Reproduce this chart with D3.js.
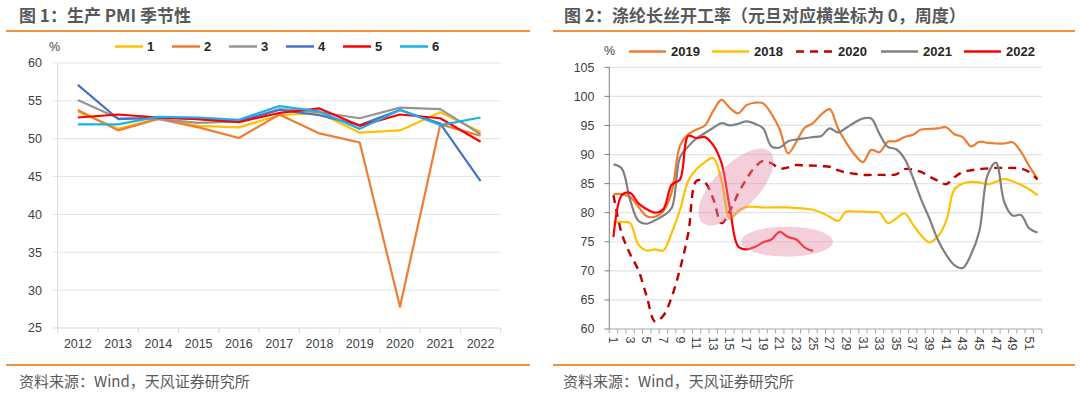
<!DOCTYPE html>
<html>
<head>
<meta charset="utf-8">
<script src="https://cdn.jsdelivr.net/npm/d3@7"></script>
<style>
  html, body { margin: 0; padding: 0; background: #fff; }
  svg { display: block; font-family: "Liberation Sans", Arial, sans-serif; }
  .title { font-family: "Noto Sans CJK SC", sans-serif; font-weight: bold; font-size: 17px; fill: #595959; }
  .source { font-family: "Noto Sans CJK SC", sans-serif; font-size: 15px; fill: #595959; }
  .tick-label { font-size: 12.5px; fill: #404040; }
  .legend-label { font-size: 13px; font-weight: bold; fill: #262626; }
</style>
</head>
<body>
<svg id="chart" width="1080" height="397"></svg>
<script>
// ---- Chart 1: production PMI by month, 2012-2022
const pmiYears = ["2012","2013","2014","2015","2016","2017","2018","2019","2020","2021","2022"];
const pmiMonths = ["1","2","3","4","5","6"];
const pmiM1 = [53.6, 51.3, 52.7, 51.7, 51.5, 53.1, 53.4, 50.8, 51.1, 53.5, 50.9];
const pmiM2 = [53.8, 51.1, 52.6, 51.5, 50.1, 53.2, 50.7, 49.5, 27.8, 51.9, 50.4];
const pmiM3 = [55.1, 52.7, 52.6, 52.1, 52.3, 53.9, 53.5, 52.7, 54.1, 53.9, 50.6];
const pmiM4 = [57.1, 52.6, 52.8, 52.6, 52.3, 53.8, 53.1, 51.8, 53.8, 52.0, 44.4];
const pmiM5 = [52.8, 53.2, 52.8, 52.6, 52.2, 53.4, 54.0, 51.7, 53.2, 52.7, 49.6];
const pmiM6 = [51.9, 51.9, 52.9, 52.8, 52.5, 54.3, 53.6, 51.3, 53.8, 51.8, 52.8];
const pmiColors = ["#FFC000", "#ED7D31", "#949494", "#4472C4", "#FF0000", "#1AB0EE"];
const pmiTicks = [25, 30, 35, 40, 45, 50, 55, 60];

// ---- Chart 2: polyester filament operating rate by week
const weeks = [1,2,3,4,5,6,7,8,9,10,11,12,13,14,15,16,17,18,19,20,21,22,23,24,25,26,
  27,28,29,30,31,32,33,34,35,36,37,38,39,40,41,42,43,44,45,46,47,48,49,50,51,52];
const rate2019 = [83.2,83.2,82.7,81.0,79.4,79.3,80.3,83.5,91.5,93.5,94.3,95.0,97.5,99.4,98.0,97.1,98.5,98.9,98.8,97.0,
  94.3,90.2,92.2,94.6,95.4,96.9,97.8,94.5,92.0,90.0,88.7,90.8,90.4,92.2,92.3,93.0,93.4,94.3,94.4,94.5,
  94.7,93.5,93.0,91.4,92.2,92.0,91.9,91.9,92.1,90.5,88.0,85.8];
const rate2018 = [78.4,78.4,78.2,74.5,73.5,73.7,73.5,76.5,80.5,85.5,87.5,88.7,89.4,85.5,79.0,80.3,81.0,81.0,80.9,80.9,
  80.9,80.9,80.8,80.7,80.5,80.0,79.3,78.6,80.2,80.2,80.2,80.1,80.0,78.2,79.0,79.9,78.0,76.1,74.9,75.9,
  78.5,84.0,85.0,85.3,85.2,84.9,85.3,85.8,85.4,84.8,84.0,83.0];
const rate2020 = [83.0,76.4,72.9,70.1,65.6,61.3,62.3,65.5,70.3,76.5,85.5,85.2,82.4,78.2,80.3,83.3,85.8,87.8,88.9,88.5,
  87.6,87.8,88.2,88.1,88.1,88.0,87.9,87.3,86.9,86.7,86.5,86.5,86.5,86.5,86.6,87.5,87.4,87.0,86.2,85.5,
  84.9,86.1,87.0,87.3,87.5,87.6,87.7,87.7,87.7,87.6,87.0,85.7];
const rate2021 = [88.3,87.6,82.2,78.6,78.1,78.7,79.5,80.8,89.5,91.4,92.8,93.7,94.6,95.4,95.0,95.3,95.7,95.3,94.5,91.4,
  91.2,92.3,92.6,92.8,93.0,93.2,94.5,93.8,94.6,95.5,96.2,96.2,93.5,91.3,90.9,89.3,86.1,82.3,79.0,75.4,
  72.8,71.0,70.5,72.8,76.8,86.5,88.6,81.8,79.5,79.6,77.3,76.6];
const rate2022 = [75.8,83.0,83.4,81.6,80.6,80.0,80.6,84.8,85.7,93.2,92.8,93.0,91.6,88.5,80.8,74.2,73.7,74.1,74.9,75.4,
  76.7,75.8,75.4,74.0,73.4];
const rateSeries = [
  { name: "2019", values: rate2019, color: "#ED7D31", dash: null },
  { name: "2018", values: rate2018, color: "#FFC000", dash: null },
  { name: "2020", values: rate2020, color: "#C00000", dash: "8,6" },
  { name: "2021", values: rate2021, color: "#808080", dash: null },
  { name: "2022", values: rate2022, color: "#FF0000", dash: null }
];
const rateTicks = [60, 65, 70, 75, 80, 85, 90, 95, 100, 105];

const svg = d3.select("#chart");

// --- frame: titles, orange rules, sources
svg.append("text").attr("class", "title").attr("x", 19).attr("y", 22).text("图 1：生产 PMI 季节性");
svg.append("text").attr("class", "title").attr("x", 564).attr("y", 22).text("图 2：涤纶长丝开工率（元旦对应横坐标为 0，周度）");
for (const [x0, x1] of [[6, 530], [553, 1075]]) {
  svg.append("line").attr("x1", x0).attr("x2", x1).attr("y1", 31).attr("y2", 31)
    .attr("stroke", "#F4913F").attr("stroke-width", 2);
  svg.append("line").attr("x1", x0).attr("x2", x1).attr("y1", 365).attr("y2", 365)
    .attr("stroke", "#F4913F").attr("stroke-width", 2);
}
svg.append("text").attr("class", "source").attr("x", 19).attr("y", 387).text("资料来源：Wind，天风证券研究所");
svg.append("text").attr("class", "source").attr("x", 563).attr("y", 387).text("资料来源：Wind，天风证券研究所");

// --- Chart 1
{
  const x = d3.scaleBand().domain(pmiYears).range([57.7, 500.7]);
  const y = d3.scaleLinear().domain([25, 60]).range([328, 63]);
  const g = svg.append("g");

  g.selectAll("line.grid").data(pmiTicks.slice(1)).join("line")
    .attr("x1", 53).attr("x2", 500.7).attr("y1", d => y(d)).attr("y2", d => y(d))
    .attr("stroke", "#E3E3E3").attr("stroke-width", 1);
  g.append("line").attr("x1", 57.7).attr("x2", 57.7).attr("y1", 63).attr("y2", 328)
    .attr("stroke", "#D9D9D9");
  g.append("line").attr("x1", 53).attr("x2", 500.7).attr("y1", 328).attr("y2", 328)
    .attr("stroke", "#D9D9D9");
  const edges = pmiYears.map(d => x(d)).concat([x.range()[1]]);
  g.selectAll("line.xt").data(edges).join("line")
    .attr("x1", d => d).attr("x2", d => d).attr("y1", 328).attr("y2", 333)
    .attr("stroke", "#D9D9D9");
  g.selectAll("text.yl").data(pmiTicks).join("text").attr("class", "tick-label")
    .attr("x", 42).attr("y", d => y(d)).attr("dy", "0.35em").attr("text-anchor", "end").text(d => d);
  g.selectAll("text.xl").data(pmiYears).join("text").attr("class", "tick-label")
    .attr("x", d => x(d) + x.bandwidth() / 2).attr("y", 348).attr("text-anchor", "middle").text(d => d);
  g.append("text").attr("class", "tick-label").attr("x", 49).attr("y", 51).text("%");

  const series = [pmiM1, pmiM2, pmiM3, pmiM4, pmiM5, pmiM6];
  const line = d3.line().x((d, i) => x(pmiYears[i]) + x.bandwidth() / 2).y(d => y(d));
  series.forEach((vals, k) => {
    g.append("path").datum(vals).attr("d", line).attr("fill", "none")
      .attr("stroke", pmiColors[k]).attr("stroke-width", 2.2).attr("stroke-linejoin", "round");
  });

  // legend
  const lg = g.append("g");
  pmiMonths.forEach((m, k) => {
    const lx = 115 + k * 57;
    lg.append("line").attr("x1", lx).attr("x2", lx + 28).attr("y1", 46.5).attr("y2", 46.5)
      .attr("stroke", pmiColors[k]).attr("stroke-width", 2.5);
    lg.append("text").attr("class", "legend-label").attr("x", lx + 32).attr("y", 51).text(m);
  });
}

// --- Chart 2
{
  const x = d3.scaleBand().domain(weeks).range([609.3, 1041.7]);
  const y = d3.scaleLinear().domain([60, 105]).range([329, 67.3]);
  const g = svg.append("g");
  const cx = w => x(w) + x.bandwidth() / 2;

  g.selectAll("line.grid").data(rateTicks.slice(1)).join("line")
    .attr("x1", 609.3).attr("x2", 1041.7).attr("y1", d => y(d)).attr("y2", d => y(d))
    .attr("stroke", "#E1E3EC").attr("stroke-width", 1.2);
  g.selectAll("line.yt").data(rateTicks).join("line")
    .attr("x1", 604.5).attr("x2", 609.3).attr("y1", d => y(d)).attr("y2", d => y(d))
    .attr("stroke", "#7F7F7F");
  g.append("line").attr("x1", 609.3).attr("x2", 609.3).attr("y1", 67.3).attr("y2", 329)
    .attr("stroke", "#7F7F7F");
  g.append("line").attr("x1", 609.3).attr("x2", 1041.7).attr("y1", 329).attr("y2", 329)
    .attr("stroke", "#A6A6A6");
  const edges = weeks.map(w => x(w)).concat([x.range()[1]]);
  g.selectAll("line.xt").data(edges).join("line")
    .attr("x1", d => d).attr("x2", d => d).attr("y1", 329).attr("y2", 333.5)
    .attr("stroke", "#A6A6A6");
  g.selectAll("text.yl").data(rateTicks).join("text").attr("class", "tick-label")
    .attr("x", 594.5).attr("y", d => y(d)).attr("dy", "0.35em").attr("text-anchor", "end").text(d => d);
  g.selectAll("text.xl").data(weeks.filter(w => w % 2 === 1)).join("text").attr("class", "tick-label")
    .attr("transform", w => `translate(${cx(w)},336.5) rotate(90)`)
    .attr("dy", "0.35em").text(w => w);
  g.append("text").attr("class", "tick-label").attr("x", 604).attr("y", 55).text("%");

  const line = d3.line().x((d, i) => cx(weeks[i])).y(d => y(d)).curve(d3.curveCatmullRom.alpha(0.5));
  rateSeries.forEach(s => {
    g.append("path").datum(s.values).attr("d", line).attr("fill", "none")
      .attr("stroke", s.color).attr("stroke-width", s.dash ? 2.4 : 2.2)
      .attr("stroke-dasharray", s.dash).attr("stroke-linejoin", "round");
  });

  // highlight ellipses
  g.append("ellipse").attr("transform", "translate(736,187) rotate(-46)")
    .attr("rx", 49).attr("ry", 22).attr("fill", "#E48AA3").attr("opacity", 0.42);
  g.append("ellipse").attr("transform", "translate(787,241.7)")
    .attr("rx", 46).attr("ry", 15).attr("fill", "#E48AA3").attr("opacity", 0.42);

  // legend
  const lg = g.append("g");
  const lx0 = [629, 712, 796, 881, 964];
  rateSeries.forEach((s, k) => {
    lg.append("line").attr("x1", lx0[k]).attr("x2", lx0[k] + 37).attr("y1", 51.5).attr("y2", 51.5)
      .attr("stroke", s.color).attr("stroke-width", 2.5).attr("stroke-dasharray", s.dash);
    lg.append("text").attr("class", "legend-label").attr("x", lx0[k] + 42).attr("y", 56).text(s.name);
  });
}
</script>
</body>
</html>
